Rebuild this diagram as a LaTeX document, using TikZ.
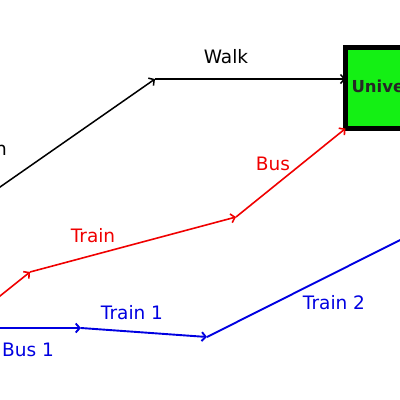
\documentclass[tikz,border=0pt]{standalone}
\usepackage{fontspec}
\setmainfont{DejaVu Sans}
\usetikzlibrary{arrows.meta}
\definecolor{unigreen}{RGB}{20,240,20}
\definecolor{lred}{RGB}{240,0,0}
\definecolor{lblue}{RGB}{0,0,225}
\tikzset{
  lbl/.style={font=\fontsize{18.5}{21}\selectfont, inner sep=0pt},
  tip/.style={-{Straight Barb[length=4pt,width=9pt]}},
  kline/.style={draw=black, line width=1.5pt},
  rline/.style={draw=lred, line width=1.6pt},
  bline/.style={draw=lblue, line width=1.9pt},
}
\begin{document}
\begin{tikzpicture}[x=1pt,y=-1pt]
\useasboundingbox (0,0) rectangle (400,400);
\clip (0,0) rectangle (400,400);
\fill[white] (0,0) rectangle (400,400);
% destination box
\node[draw=black, line width=5pt, fill=unigreen, anchor=north west, outer sep=0pt,
      minimum height=81pt, inner xsep=6pt, inner ysep=0pt, text width=120pt, align=left,
      font=\fontsize{16.5}{19}\selectfont\bfseries, text=black!85] (uni) at (345.5,47.5) {University};
% black route
\coordinate (k0) at (-10,194);
\coordinate (k1) at (155,79);
\draw[kline, tip] (k0) -- (k1);
\draw[kline, tip] (k1) -- (uni.west |- k1);
% red route
\coordinate (r0) at (-10,304);
\coordinate (r1) at (30,272);
\coordinate (r2) at (236,217);
\draw[rline, tip] (r0) -- (r1);
\draw[rline, tip] (r1) -- (r2);
\draw[rline, tip] (r2) -- (uni.south west);
% blue route
\coordinate (b0) at (-10,328);
\coordinate (b1) at (81,328);
\coordinate (b2) at (207,337);
\coordinate (b3) at (430,225);
\draw[bline, tip] (b0) -- (b1);
\draw[bline, tip] (b1) -- (b2);
\draw[bline] (b2) -- (b3);
% labels
\node[lbl, text=black] (lwalk) at (226,57) {Walk};
\node[lbl, text=black, anchor=east] (lk) at (7,150) {n};
\node[lbl, text=lred] (ltrain) at (93,236) {Train};
\node[lbl, text=lred] (lbus) at (273,164) {Bus};
\node[lbl, text=lblue] (lbus1) at (28,350) {Bus 1};
\node[lbl, text=lblue] (ltrain1) at (132,313) {Train 1};
\node[lbl, text=lblue] (ltrain2) at (334,303) {Train 2};
\end{tikzpicture}
\end{document}
